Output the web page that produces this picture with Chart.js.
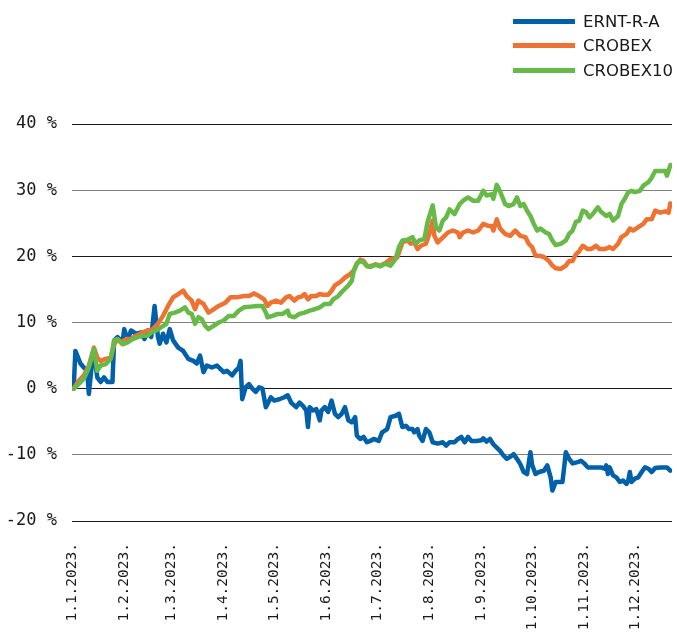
<!DOCTYPE html>
<html>
<head>
<meta charset="utf-8">
<script src="https://cdn.jsdelivr.net/npm/chart.js@4.4.1/dist/chart.umd.min.js"></script>
<style>
html,body{margin:0;padding:0;background:#fff;}
#wrap{position:relative;width:677px;height:633px;}
#legend{position:absolute;left:513px;top:9.5px;font-family:"DejaVu Sans",sans-serif;font-size:16.5px;color:#1a1a1a;}
.item{display:flex;align-items:center;height:24.3px;white-space:nowrap;}
.sw{width:62px;height:5px;margin-right:8px;}
</style>
</head>
<body>
<div id="wrap"><canvas id="c" width="677" height="633"></canvas><div id="legend"></div></div>
<script>
// Tick labels (x axis: first day of each month, as day-of-year 2023, 0 = 1 Jan)
const monthStartDays = [0,31,59,90,120,151,181,212,243,273,304,334];
const monthLabels = ['1.1.2023.','1.2.2023.','1.3.2023.','1.4.2023.','1.5.2023.','1.6.2023.','1.7.2023.','1.8.2023.','1.9.2023.','1.10.2023.','1.11.2023.','1.12.2023.'];
const yTicks = [-20,-10,0,10,20,30,40];

const seriesNames = ['ERNT-R-A','CROBEX','CROBEX10'];
const seriesColors = ['#0060AA','#EE7232','#67BA48'];

// [day of year 2023, cumulative return %]
const ernt = [[1,0],[2,5.7],[5,3.8],[7,3.2],[9,2.7],[10,-0.8],[12,4.2],[13,5.7],[15,1.7],[17,1.0],[19,1.7],[21,1.0],[24,1.0],[25,7.3],[27,7.8],[30,7.0],[31,9.0],[33,7.3],[35,8.8],[38,8.3],[41,8.5],[43,7.5],[45,8.8],[47,7.8],[49,12.5],[51,7.8],[52,6.8],[54,8.3],[56,7.0],[58,9.0],[60,7.3],[63,6.2],[66,5.7],[69,4.5],[72,4.2],[74,3.8],[76,5.0],[78,2.5],[80,3.5],[83,3.2],[86,3.5],[88,3.0],[90,2.5],[92,2.7],[95,2.0],[97,2.7],[99,3.2],[100,4.2],[101,-1.6],[103,0.2],[105,0.7],[107,0],[109,-0.5],[111,0.2],[113,0],[115,-2.8],[116,-2.3],[118,-1.3],[120,-1.8],[123,-1.6],[126,-1.3],[128,-1.0],[130,-2.1],[133,-2.8],[135,-2.1],[137,-2.6],[139,-3.3],[140,-5.8],[141,-2.8],[143,-3.3],[145,-3.1],[147,-4.8],[148,-3.3],[150,-2.8],[152,-3.5],[154,-1.8],[156,-3.8],[158,-4.3],[160,-3.8],[162,-2.8],[164,-4.8],[166,-5.1],[168,-4.3],[169,-7.1],[171,-7.6],[173,-7.3],[175,-8.1],[177,-7.9],[179,-7.6],[182,-7.9],[184,-6.6],[187,-6.1],[189,-4.3],[192,-4.1],[194,-3.8],[196,-5.8],[198,-5.6],[200,-6.1],[202,-6.1],[203,-6.6],[205,-6.1],[206,-7.1],[208,-7.9],[210,-6.1],[212,-6.6],[214,-8.1],[217,-8.3],[220,-8.1],[222,-8.6],[224,-8.1],[227,-8.1],[229,-7.6],[231,-7.3],[233,-8.1],[235,-7.3],[237,-7.9],[240,-7.9],[243,-7.8],[244,-7.5],[246,-8.0],[248,-7.6],[250,-8.4],[252,-8.9],[254,-9.4],[256,-10.1],[258,-10.6],[260,-10.3],[262,-9.9],[264,-10.6],[266,-11.4],[268,-12.6],[270,-12.9],[272,-9.6],[273,-11.5],[275,-12.9],[277,-12.6],[280,-12.4],[282,-11.6],[284,-13.4],[285,-15.4],[287,-14.1],[289,-14.1],[291,-14.1],[292,-11.9],[293,-9.6],[295,-10.6],[297,-11.3],[300,-11.1],[302,-10.9],[304,-11.3],[306,-11.9],[310,-11.9],[314,-11.9],[316,-12.1],[317,-11.6],[318,-12.9],[319,-11.9],[321,-13.1],[323,-13.4],[325,-14.1],[327,-13.9],[329,-14.4],[330,-13.9],[331,-12.6],[332,-14.1],[334,-13.6],[336,-13.4],[338,-12.6],[340,-11.9],[342,-12.1],[344,-12.6],[346,-12.0],[349,-11.9],[353,-11.9],[355,-12.4]];

const crobex = [[1,0],[4,1.2],[7,2.0],[10,3.5],[13,6.2],[15,4.7],[17,4.2],[20,4.5],[23,4.7],[25,6.7],[27,7.5],[29,7.0],[32,7.5],[35,7.5],[38,8.0],[42,8.5],[45,8.8],[48,9.0],[51,9.8],[54,11.0],[57,12.5],[60,13.8],[63,14.3],[66,14.8],[68,14.0],[71,13.3],[73,12.0],[75,13.3],[78,12.8],[81,11.5],[84,12.0],[87,12.5],[91,13.0],[94,13.8],[98,13.8],[102,14.0],[105,14.0],[108,14.4],[111,14.0],[114,13.5],[116,12.5],[118,13.0],[121,13.3],[124,13.0],[127,13.8],[129,14.0],[132,13.3],[134,13.8],[136,13.9],[138,14.3],[140,13.5],[142,14.0],[145,14.0],[147,14.3],[149,14.2],[152,14.2],[154,14.8],[156,15.6],[159,16.1],[162,16.8],[165,17.3],[167,17.8],[169,18.9],[171,19.5],[173,19.3],[175,18.6],[177,18.5],[180,18.8],[183,18.6],[186,19.0],[189,19.6],[193,19.8],[196,22.1],[199,22.4],[201,21.9],[203,22.1],[205,21.1],[207,21.6],[210,21.9],[212,23.4],[214,25.4],[215,23.1],[217,22.1],[219,22.6],[221,23.1],[223,23.6],[226,23.9],[229,23.6],[230,22.9],[232,23.6],[235,23.9],[238,23.6],[241,23.9],[244,24.9],[247,24.6],[249,24.6],[250,23.9],[252,25.6],[254,24.2],[257,23.4],[260,23.1],[263,23.9],[266,23.1],[269,22.9],[271,21.9],[273,21.4],[275,20.1],[277,20.1],[280,19.9],[283,19.3],[285,18.6],[287,18.2],[290,18.1],[293,18.6],[295,19.3],[297,19.3],[299,20.3],[301,20.8],[303,21.6],[306,21.1],[308,21.1],[311,21.6],[313,21.1],[316,21.1],[319,21.4],[321,21.1],[324,21.9],[326,22.9],[329,23.4],[331,24.2],[333,23.9],[336,24.4],[339,24.9],[341,25.6],[344,25.6],[346,26.9],[349,26.6],[352,26.8],[354,26.6],[355,28.0]];

const crobex10 = [[1,0],[4,0.7],[7,1.5],[10,3.2],[13,6.0],[15,2.7],[17,3.5],[20,3.7],[23,4.5],[25,7.3],[27,7.5],[30,6.7],[33,7.0],[36,7.5],[39,7.8],[42,8.0],[45,8.0],[47,8.5],[50,8.8],[53,9.3],[56,9.8],[58,11.3],[61,11.5],[64,11.8],[67,12.3],[69,11.5],[71,11.3],[73,9.8],[75,10.8],[77,10.5],[79,9.5],[81,9.0],[84,9.5],[87,10.0],[90,10.3],[93,11.0],[96,11.0],[99,11.8],[102,12.3],[106,12.4],[110,12.5],[113,12.5],[115,11.5],[116,10.8],[119,11.0],[122,11.3],[125,11.3],[128,11.8],[129,11.0],[132,10.8],[135,11.3],[138,11.5],[141,11.8],[144,12.0],[147,12.3],[150,12.8],[153,12.8],[155,13.5],[158,14.0],[160,14.6],[162,15.1],[164,15.6],[166,16.3],[167,17.6],[169,18.9],[171,19.3],[173,19.1],[175,18.5],[177,18.4],[180,18.7],[183,18.5],[186,18.9],[189,18.6],[192,19.6],[194,21.4],[196,22.4],[199,22.5],[202,22.9],[204,21.9],[206,22.4],[209,22.6],[211,25.2],[214,27.7],[216,24.4],[218,23.9],[220,25.4],[222,25.9],[224,27.1],[227,26.4],[230,27.9],[232,28.4],[235,28.9],[238,28.4],[241,28.4],[244,29.9],[246,29.2],[249,29.4],[250,28.7],[252,30.8],[254,29.8],[257,27.9],[259,27.6],[262,27.9],[264,28.9],[266,27.6],[268,27.9],[270,26.9],[272,26.1],[274,24.9],[276,23.9],[278,24.2],[281,23.6],[283,23.4],[285,22.4],[287,21.7],[290,21.9],[293,22.4],[295,23.4],[297,23.9],[299,25.2],[301,25.4],[303,26.9],[305,26.7],[307,25.9],[309,26.4],[312,27.4],[314,26.7],[317,26.1],[319,26.4],[321,25.4],[324,26.1],[326,27.9],[328,28.7],[330,29.7],[332,29.9],[334,29.7],[337,29.9],[339,30.7],[342,31.2],[344,31.9],[346,32.9],[349,32.9],[352,32.9],[353,32.2],[354,32.9],[355,33.8]];

const seriesData = [ernt, crobex, crobex10];

const datasets = seriesData.map((s, i) => ({
  label: seriesNames[i],
  data: s.map(p => ({x: p[0], y: p[1]})),
  borderColor: seriesColors[i],
  backgroundColor: seriesColors[i],
  borderWidth: 4.5,
  pointRadius: 0,
  tension: 0,
  fill: false,
  borderJoinStyle: 'round',
  borderCapStyle: 'round',
  order: 3 - i
}));

const chart = new Chart(document.getElementById('c'), {
  type: 'line',
  data: { datasets },
  options: {
    responsive: false,
    animation: false,
    devicePixelRatio: 1,
    layout: { padding: { top: 124, right: 5, left: 0, bottom: 0 } },
    plugins: { legend: { display: false }, tooltip: { enabled: false } },
    scales: {
      x: {
        type: 'linear',
        min: 0,
        max: 356,
        grid: { display: false, drawTicks: false },
        border: { display: false },
        afterBuildTicks: (scale) => { scale.ticks = monthStartDays.map(v => ({ value: v })); },
        afterFit: (scale) => { scale.height = 112; },
        ticks: {
          autoSkip: false,
          minRotation: 90,
          maxRotation: 90,
          padding: 22,
          color: '#1a1a1a',
          font: { family: '"DejaVu Sans Mono"', size: 14.5 },
          callback: (value) => monthLabels[monthStartDays.indexOf(value)]
        }
      },
      y: {
        type: 'linear',
        min: -20,
        max: 40,
        afterBuildTicks: (scale) => { scale.ticks = yTicks.map(v => ({ value: v })); },
        afterFit: (scale) => { scale.width = 72; },
        grid: {
          drawTicks: false,
          lineWidth: 1,
          color: (ctx) => (ctx.tick && ctx.tick.value % 20 === 0) ? '#1a1a1a' : '#808080'
        },
        border: { display: false },
        ticks: {
          padding: 15,
          color: '#1a1a1a',
          font: { family: '"DejaVu Sans Mono"', size: 17 },
          callback: (value) => value + ' %'
        }
      }
    }
  }
});

// Legend built from the chart's datasets
const leg = document.getElementById('legend');
chart.data.datasets.forEach(ds => {
  const row = document.createElement('div');
  row.className = 'item';
  const sw = document.createElement('span');
  sw.className = 'sw';
  sw.style.background = ds.borderColor;
  const t = document.createElement('span');
  t.textContent = ds.label;
  row.appendChild(sw);
  row.appendChild(t);
  leg.appendChild(row);
});
</script>
</body>
</html>
